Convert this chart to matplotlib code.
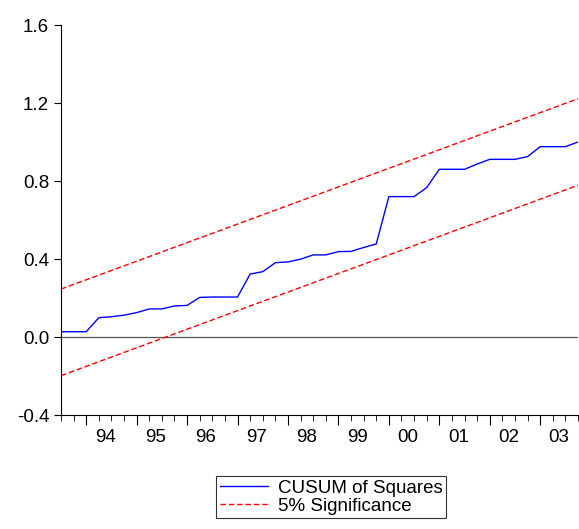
import matplotlib.pyplot as plt
import numpy as np

plt.rcParams['font.family'] = ['Liberation Sans', 'DejaVu Sans']

# quarterly obs 1993Q3 .. 2003Q4
cusum_sq = [0.027, 0.027, 0.027, 0.099, 0.104, 0.112, 0.125, 0.144, 0.144, 0.159,
            0.162, 0.203, 0.205, 0.205, 0.205, 0.323, 0.335, 0.381, 0.385, 0.399,
            0.421, 0.421, 0.438, 0.439, 0.459, 0.477, 0.720, 0.720, 0.720, 0.766,
            0.860, 0.860, 0.860, 0.887, 0.911, 0.911, 0.911, 0.925, 0.976, 0.976,
            0.976, 1.000]
crit = 0.222
year_labels = ["94", "95", "96", "97", "98", "99", "00", "01", "02", "03"]

n = len(cusum_sq)
x = np.arange(n)
expected = (x + 1) / n

fs = 13.5
fig = plt.figure(figsize=(5.79, 5.29), dpi=100)
ax = fig.add_axes([61/579, 114/529, 517/579, 390/529])

ax.axhline(0, color='#555555', lw=0.9)
ax.plot(x, cusum_sq, color='#0000ff', lw=1, label='CUSUM of Squares')
ax.plot(x, expected + crit, color='#ff0000', lw=1, ls=(0, (4, 2)), label='5% Significance')
ax.plot(x, expected - crit, color='#ff0000', lw=1, ls=(0, (4, 2)))

ax.set_xlim(0, n - 1)
ax.set_ylim(-0.4, 1.6)
ax.set_yticks([-0.4, 0.0, 0.4, 0.8, 1.2, 1.6])
ax.set_yticklabels(['-0.4', '0.0', '0.4', '0.8', '1.2', '1.6'], fontsize=fs)

ax.set_xticks(np.arange(2, n, 4))
ax.set_xticklabels([])
ax.set_xticks(np.arange(0, n, 1), minor=True)
ax.tick_params(axis='x', which='major', length=7, direction='out')
ax.tick_params(axis='x', which='minor', length=4, direction='out')
ax.tick_params(axis='y', length=5)
for k, lab in enumerate(year_labels):
    ax.text(2 + 4 * k + 1.5, -0.47, lab, ha='center', va='top', fontsize=fs,
            transform=ax.transData)

for s in ['top', 'right']:
    ax.spines[s].set_visible(False)

leg = fig.legend(loc='center', bbox_to_anchor=(331/579, 1 - 497/529), fontsize=fs,
                 frameon=True, fancybox=False, edgecolor='black', handlelength=2.6,
                 borderpad=0.2, labelspacing=0.05, handletextpad=0.5)
leg.get_frame().set_linewidth(0.8)

fig.savefig('out.png', dpi=100)
